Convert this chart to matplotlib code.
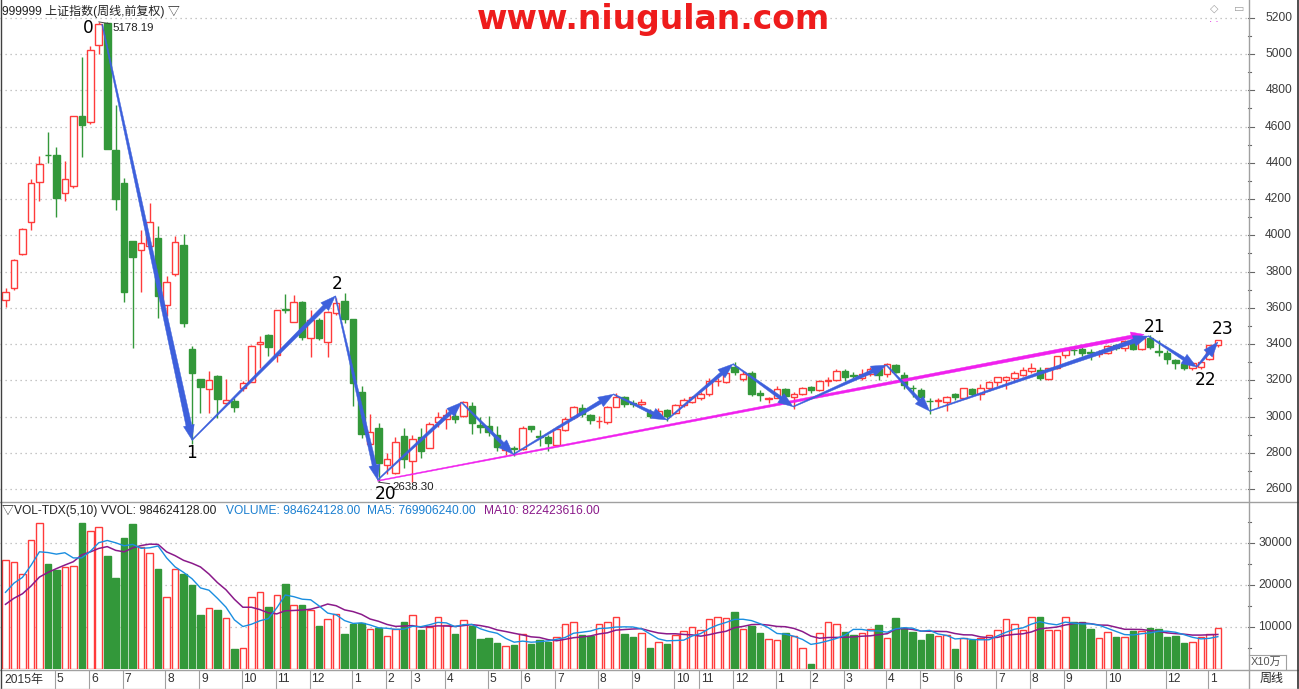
import numpy as np
import matplotlib
matplotlib.use("Agg")
import matplotlib.pyplot as plt
from matplotlib.patches import Polygon, Rectangle
from matplotlib.lines import Line2D
from matplotlib.transforms import blended_transform_factory

# ---------------- data (weekly, 2015-03-27 .. 2018-01-12) ----------------
opens = [3641, 3709, 3897, 4073, 4294, 4443, 4443, 4233, 4272, 4658,
         4627, 5049, 5173, 4470, 4289, 3970, 3919, 3943, 3984, 3614,
         3785, 3946, 3373, 3207, 3151, 3224, 3073, 3086, 3155, 3193,
         3398, 3450, 3340, 3592, 3520, 3630, 3432, 3533, 3410, 3573,
         3637, 3539, 3134, 2847, 2937, 2733, 2687, 2892, 2752, 2889,
         2828, 2971, 2985, 3003, 3005, 3058, 2953, 2948, 2898, 2815,
         2828, 2820, 2945, 2893, 2885, 2843, 2925, 2996, 3045, 3008,
         2975, 2970, 3054, 3108, 3076, 3068, 3027, 3005, 3035, 3020,
         3063, 3082, 3100, 3123, 3196, 3190, 3275, 3205, 3238, 3128,
         3095, 3104, 3154, 3106, 3123, 3165, 3145, 3197, 3202, 3251,
         3230, 3211, 3235, 3262, 3233, 3284, 3229, 3160, 3146, 3087,
         3083, 3082, 3123, 3101, 3150, 3124, 3156, 3189, 3201, 3211,
         3229, 3251, 3257, 3205, 3266, 3340, 3367, 3370, 3357, 3345,
         3350, 3392, 3378, 3416, 3372, 3433, 3362, 3349, 3312, 3288,
         3266, 3275, 3316, 3395]
highs = [3709, 3870, 4040, 4311, 4438, 4570, 4487, 4411, 4658, 4986,
         5047, 5178, 5178, 4719, 4316, 3970, 4029, 4178, 4050, 3774,
         3996, 4007, 3391, 3207, 3251, 3229, 3207, 3100, 3195, 3395,
         3446, 3457, 3590, 3675, 3671, 3640, 3588, 3545, 3580, 3654,
         3684, 3540, 3170, 3016, 2963, 2800, 2889, 2934, 2898, 2935,
         2971, 3027, 3040, 3036, 3086, 3080, 2999, 3003, 2948, 2850,
         2840, 2945, 2950, 2925, 2898, 2945, 3000, 3060, 3070, 3015,
         3003, 3060, 3128, 3112, 3090, 3095, 3040, 3045, 3040, 3070,
         3100, 3115, 3135, 3210, 3210, 3262, 3301, 3250, 3250, 3146,
         3109, 3170, 3160, 3135, 3165, 3168, 3200, 3216, 3260, 3262,
         3247, 3260, 3275, 3270, 3295, 3290, 3245, 3175, 3160, 3100,
         3100, 3115, 3130, 3160, 3160, 3180, 3195, 3220, 3225, 3250,
         3276, 3297, 3275, 3270, 3335, 3370, 3390, 3385, 3375, 3366,
         3395, 3400, 3420, 3420, 3435, 3450, 3420, 3367, 3320, 3300,
         3300, 3310, 3395, 3425]
lows = [3604, 3700, 3890, 4029, 4189, 4399, 4101, 4189, 4261, 4434,
        4614, 5000, 4476, 4140, 3632, 3378, 3689, 3930, 3542, 3555,
        3775, 3492, 2850, 3021, 3018, 2990, 3065, 3027, 3143, 3193,
        3269, 3334, 3303, 3570, 3520, 3420, 3330, 3420, 3330, 3563,
        3518, 3060, 2880, 2844, 2638, 2682, 2682, 2718, 2640, 2773,
        2825, 2944, 2933, 2963, 2999, 2904, 2911, 2890, 2807, 2790,
        2780, 2815, 2915, 2840, 2807, 2835, 2920, 2985, 3000, 2960,
        2936, 2960, 3050, 3055, 3050, 3060, 2990, 2995, 2975, 3015,
        3050, 3075, 3090, 3115, 3170, 3185, 3230, 3195, 3115, 3087,
        3073, 3100, 3100, 3044, 3120, 3130, 3140, 3170, 3195, 3195,
        3211, 3200, 3225, 3201, 3220, 3240, 3150, 3110, 3098, 3016,
        3050, 3030, 3090, 3095, 3115, 3090, 3140, 3170, 3150, 3195,
        3225, 3240, 3200, 3200, 3260, 3325, 3340, 3335, 3310, 3330,
        3345, 3365, 3360, 3366, 3365, 3375, 3335, 3290, 3260, 3255,
        3255, 3260, 3310, 3385]
closes = [3687, 3863, 4034, 4289, 4394, 4441, 4206, 4311, 4658, 4609,
          5023, 5166, 4478, 4199, 3689, 3882, 3957, 4073, 3667, 3740,
          3961, 3514, 3238, 3165, 3201, 3098, 3091, 3054, 3183, 3391,
          3410, 3385, 3588, 3588, 3630, 3440, 3533, 3432, 3575, 3625,
          3539, 3187, 2903, 2916, 2742, 2764, 2858, 2767, 2874, 2811,
          2959, 2999, 3008, 2984, 3078, 2962, 2944, 2913, 2830, 2825,
          2821, 2938, 2930, 2885, 2854, 2932, 2989, 3054, 3012, 2979,
          2978, 3050, 3108, 3070, 3067, 3078, 3002, 3033, 3004, 3063,
          3090, 3106, 3125, 3196, 3198, 3242, 3247, 3233, 3125, 3120,
          3103, 3154, 3112, 3124, 3159, 3146, 3196, 3202, 3253, 3220,
          3225, 3237, 3262, 3229, 3288, 3247, 3174, 3155, 3106, 3083,
          3090, 3109, 3106, 3156, 3124, 3156, 3192, 3216, 3220, 3238,
          3257, 3266, 3211, 3266, 3334, 3367, 3365, 3353, 3350, 3349,
          3390, 3378, 3416, 3371, 3432, 3385, 3356, 3317, 3294, 3270,
          3294, 3302, 3395, 3422]
# volume in units of 10万
volumes = [25950, 25480, 22620, 30710, 34760, 25080, 23570, 24290, 24520, 34840,
           32860, 33810, 26980, 21750, 31270, 34520, 29130, 27620, 23890, 17140,
           23810, 22620, 20000, 12940, 14440, 14130, 12140, 4840, 5000, 17140,
           18250, 14760, 17620, 20320, 15160, 15240, 14050, 10240, 11900, 13100,
           8330, 10710, 10870, 9440, 9680, 7780, 9440, 11110, 12800, 9300,
           10000, 12300, 10500, 8400, 11600, 10300, 7100, 7300, 6200, 5500,
           5800, 8400, 6000, 6800, 6500, 7600, 10600, 11100, 8000, 7900,
           10600, 11100, 12300, 8300, 7700, 8500, 5080, 6350, 5950, 8020,
           8970, 10000, 9290, 11830, 12300, 12060, 13570, 9440, 10240, 8650,
           7140, 6830, 8570, 7780, 4920, 1190, 8490, 11110, 10630, 8810,
           8100, 8490, 9440, 10480, 7300, 12140, 9800, 8900, 6800, 8400,
           7800, 8100, 4700, 7500, 7000, 7500, 8100, 9300, 11800, 10600,
           9200, 12500, 12300, 9400, 9200, 12400, 11300, 11300, 9600, 7500,
           8700, 7600, 7600, 9100, 9000, 9700, 9500, 7700, 7847, 6200,
           6500, 7600, 8349, 9846]
# weeks before the first drawn bar (only used for the moving averages)
pre_volumes = [11000, 12000, 12500, 13250, 14000, 14500, 15800, 16500, 18500]

month_pos = [6, 10, 14, 19, 23, 28, 32, 36, 41, 45, 48, 52, 57, 61, 65, 70, 74,
             79, 82, 86, 91, 95, 99, 104, 108, 112, 117, 121, 125, 130, 137, 142]
month_text = ['5', '6', '7', '8', '9', '10', '11', '12', '1', '2', '3', '4', '5', '6',
              '7', '8', '9', '10', '11', '12', '1', '2', '3', '4', '5', '6', '7', '8',
              '9', '10', '12', '1']
price_ticks = [2600, 2800, 3000, 3200, 3400, 3600, 3800, 4000, 4200, 4400, 4600,
               4800, 5000, 5200]
vol_ticks = [10000, 20000, 30000]

# wave pivots (bar index, price)
pivot_x = [11.4, 22.0, 38.9, 43.9, 53.8, 59.9, 71.7, 78.0, 85.8, 92.9, 103.9,
           109.0, 134.8, 140.5, 143.0]
pivot_y = [5165, 2870, 3665, 2650, 3078, 2791, 3123, 2981, 3290, 3054, 3284,
           3030, 3444, 3273, 3411]
pink_x = [43.9, 134.3]
pink_y = [2645, 3453]
pivot_labels = {0: '0', 1: '1', 2: '2', 3: '20', 12: '21', 13: '22', 14: '23'}
label_offsets_px = {0: (-14, 4), 1: (0, 13), 2: (2, -12), 3: (8, 14),
                    12: (6, -9), 13: (9, 13), 14: (5, -13)}

# ---------------- layout ----------------
W, H = 1299, 689
DPI = 100
fig = plt.figure(figsize=(W / DPI, H / DPI), dpi=DPI, facecolor='white')

PLOT_R = 1248
n = len(closes)
xs = np.arange(n)
x_lo = -5.5 / 8.478
x_hi = (PLOT_R - 5.5) / 8.478

def fb(left, top, right, bottom):
    return [left / W, 1 - bottom / H, (right - left) / W, (bottom - top) / H]

ax = fig.add_axes(fb(0, 0, PLOT_R, 501))
axv = fig.add_axes(fb(0, 502, PLOT_R, 669))
axd = fig.add_axes(fb(0, 670, PLOT_R, 689))

ppx = 0.1812  # px per price unit
ax.set_xlim(x_lo, x_hi)
ax.set_ylim(2600 - (501 - 489) / ppx, 2600 + 489 / ppx)
axv.set_xlim(x_lo, x_hi)
axv.set_ylim(0, 167 / 0.0042)
axd.set_xlim(x_lo, x_hi)
axd.set_ylim(0, 1)

for a in (ax, axv, axd):
    a.set_axis_off()
    a.patch.set_alpha(0)

RED = '#ff3b3b'
GREEN = '#33983a'
BW = 0.77
FONT = ['Liberation Sans', 'Noto Sans CJK SC', 'DejaVu Sans']
PX = 0.72  # points per pixel

# grid lines
for p in price_ticks:
    ax.axhline(p, color='#b4b4b4', lw=0.9, ls=(0, (1, 3)), zorder=0)
for v in vol_ticks:
    axv.axhline(v, color='#b4b4b4', lw=0.9, ls=(0, (1, 3)), zorder=0)

# candles
for i in range(n):
    o, h, l, c = opens[i], highs[i], lows[i], closes[i]
    lo_b, hi_b = min(o, c), max(o, c)
    if c >= o:
        ax.vlines(i, hi_b, h, color=RED, lw=1.0, zorder=3)
        ax.vlines(i, l, lo_b, color=RED, lw=1.0, zorder=3)
        ax.add_patch(Rectangle((i - BW / 2, lo_b), BW, max(hi_b - lo_b, 0.5),
                               facecolor='white', edgecolor=RED, lw=1.0, zorder=3))
    else:
        ax.vlines(i, l, h, color=GREEN, lw=1.0, zorder=3)
        ax.add_patch(Rectangle((i - BW / 2, lo_b), BW, max(hi_b - lo_b, 0.5),
                               facecolor=GREEN, edgecolor=GREEN, lw=1.0, zorder=3))

# volume bars
for i in range(n):
    up = closes[i] >= opens[i]
    axv.add_patch(Rectangle((i - BW / 2, 0), BW, volumes[i],
                            facecolor='white' if up else GREEN,
                            edgecolor=RED if up else GREEN, lw=1.0, zorder=3))

allv = np.array(pre_volumes + volumes, dtype=float)
k0 = len(pre_volumes)
ma5 = [allv[k0 + i - 4:k0 + i + 1].mean() for i in range(n)]
ma10 = [allv[k0 + i - 9:k0 + i + 1].mean() for i in range(n)]
axv.plot(xs, ma10, color='#8a1a8a', lw=1.1, zorder=5)
axv.plot(xs, ma5, color='#1a8ee0', lw=1.0, zorder=5)

# tapered arrows
def tapered_arrow(a, x0, y0, x1, y1, color, wend, hl=14.0, hw=5.5, w0=0.5):
    T = a.transData
    p0 = T.transform((x0, y0))
    p1 = T.transform((x1, y1))
    d = p1 - p0
    L = np.hypot(d[0], d[1])
    u = d / L
    nv = np.array([-u[1], u[0]])
    b = p1 - u * hl
    pts = [p0 + nv * w0, b + nv * wend / 2, b + nv * hw, p1,
           b - nv * hw, b - nv * wend / 2, p0 - nv * w0]
    pd = T.inverted().transform(np.array(pts))
    a.add_patch(Polygon(pd, closed=True, facecolor=color, edgecolor=color,
                        lw=0.3, zorder=7, clip_on=False))
    return L

BLUE = '#3d60dc'
PINK = '#f020ee'
tapered_arrow(ax, pink_x[0], pink_y[0], pink_x[1], pink_y[1], PINK, 3.6,
              hl=13, hw=5)
for j in range(len(pivot_x) - 1):
    T = ax.transData
    p0 = T.transform((pivot_x[j], pivot_y[j]))
    p1 = T.transform((pivot_x[j + 1], pivot_y[j + 1]))
    L = np.hypot(*(p1 - p0))
    wend = min(6.0, 3.0 + L / 150.0)
    tapered_arrow(ax, pivot_x[j], pivot_y[j], pivot_x[j + 1], pivot_y[j + 1],
                  BLUE, wend, hl=min(15, 0.3 * L + 6), hw=5.5)

# pivot labels
for j, s in pivot_labels.items():
    dx, dy = label_offsets_px[j]
    ax.annotate(s, xy=(pivot_x[j], pivot_y[j]), xytext=(dx * PX, -dy * PX),
                textcoords='offset points', ha='center', va='center',
                fontsize=17 * PX, color='black', family='DejaVu Sans', zorder=8)

# high / low value marks
imax = int(np.argmax(highs))
imin = int(np.argmin(lows))
ax.annotate('%.2f' % 5178.19, xy=(imax, highs[imax]), xytext=(14 * PX, -6 * PX),
            textcoords='offset points', ha='left', va='center', fontsize=11.5 * PX,
            color='#222222', family=FONT,
            arrowprops=dict(arrowstyle='-', color='#444444', lw=0.7,
                            shrinkA=0, shrinkB=0), zorder=8)
ax.annotate('%.2f' % 2638.30, xy=(imin, lows[imin]), xytext=(14 * PX, -5 * PX),
            textcoords='offset points', ha='left', va='center', fontsize=11.5 * PX,
            color='#222222', family=FONT,
            arrowprops=dict(arrowstyle='-', color='#444444', lw=0.7,
                            shrinkA=0, shrinkB=0), zorder=8)

# ---------------- right axis ticks / labels ----------------
bt = blended_transform_factory(ax.transAxes, ax.transData)
for p in price_ticks:
    ax.add_line(Line2D([1.0, 1.0 + 6 / PLOT_R], [p, p], transform=bt, color='#666666',
                       lw=0.8, clip_on=False))
    ax.text(1292 / PLOT_R, p, str(p), transform=bt, ha='right', va='center',
            fontsize=12 * PX, color='#3c3c3c', family=FONT, clip_on=False)
    if p + 100 < 5300:
        ax.add_line(Line2D([1.0, 1.0 + 3 / PLOT_R], [p + 100, p + 100], transform=bt,
                           color='#666666', lw=0.8, clip_on=False))
btv = blended_transform_factory(axv.transAxes, axv.transData)
for v in vol_ticks:
    axv.add_line(Line2D([1.0, 1.0 + 6 / PLOT_R], [v, v], transform=btv, color='#666666',
                        lw=0.8, clip_on=False))
    axv.text(1292 / PLOT_R, v, str(v), transform=btv, ha='right', va='center',
             fontsize=12 * PX, color='#3c3c3c', family=FONT, clip_on=False)
for v in (5000, 15000, 25000, 35000):
    axv.add_line(Line2D([1.0, 1.0 + 3 / PLOT_R], [v, v], transform=btv, color='#666666',
                        lw=0.8, clip_on=False))

# ---------------- date strip ----------------
xpp = 1 / 8.478  # data units per px
axd.text(x_lo + 4 * xpp, 0.5, '2015年', ha='left', va='center', fontsize=12 * PX,
         color='#333333', family=FONT)
for mp, mt in zip(month_pos, month_text):
    if mt == '11' and mp > 120:
        continue
    axd.vlines(mp - 1.2 * xpp, 0, 1, color='#a0a0a0', lw=0.8)
    axd.text(mp + 0.6 * xpp, 0.5, mt, ha='left', va='center', fontsize=12 * PX,
             color='#333333', family=FONT)

# ---------------- frame lines ----------------
def fline(x0, y0, x1, y1, color='#a0a0a0', lw=1.0):
    fig.add_artist(Line2D([x0 / W, x1 / W], [1 - y0 / H, 1 - y1 / H], color=color, lw=lw))

fline(1248.5, 0, 1248.5, 689)
fline(0, 501.5, 1299, 501.5)
fline(0, 669.5, 1299, 669.5)
fline(0.5, 0, 0.5, 689, color='#404040')
fline(1298, 0, 1298, 689, color='#303030', lw=1.2)
fline(0, 688.5, 1299, 688.5, color='#c0c0c0')
# X10万 box
fline(1249, 654.5, 1285.5, 654.5, color='#a0a0a0', lw=0.8)
fline(1285.5, 654.5, 1285.5, 669, color='#a0a0a0', lw=0.8)

def ftext(x, y, s, **kw):
    fig.text(x / W, 1 - y / H, s, **kw)

# ---------------- texts ----------------
ftext(2, 11, '999999 上证指数(周线,前复权) ▽', ha='left', va='center',
      fontsize=12 * PX, color='#222222', family=FONT)
ftext(653, 20, 'www.niugulan.com', ha='center', va='center', fontsize=33 * PX,
      color='#ee1c1c', family='DejaVu Sans', weight='bold')
ftext(1214, 9, '◇', ha='center', va='center', fontsize=11 * PX, color='#a0a0a0',
      family='DejaVu Sans')
ftext(1239, 9, '▭', ha='center', va='center', fontsize=11 * PX, color='#a0a0a0',
      family='DejaVu Sans')
ftext(1214, 19, '. .', ha='center', va='center', fontsize=10 * PX, color='#e020e0',
      family='DejaVu Sans')

ftext(2, 511, '▽VOL-TDX(5,10) VVOL: 984624128.00', ha='left', va='center',
      fontsize=12 * PX, color='#222222', family=FONT)
ftext(226, 511, 'VOLUME: 984624128.00', ha='left', va='center', fontsize=12 * PX,
      color='#1a7fd0', family=FONT)
ftext(367, 511, 'MA5: 769906240.00', ha='left', va='center', fontsize=12 * PX,
      color='#1a7fd0', family=FONT)
ftext(484, 511, 'MA10: 822423616.00', ha='left', va='center', fontsize=12 * PX,
      color='#8a1a8a', family=FONT)

ftext(1251, 662, 'X10万', ha='left', va='center', fontsize=11 * PX, color='#555555',
      family=FONT)
ftext(1272, 679, '周线', ha='center', va='center', fontsize=12 * PX, color='#222222',
      family=FONT)

fig.savefig('out.png', dpi=DPI, facecolor='white')
